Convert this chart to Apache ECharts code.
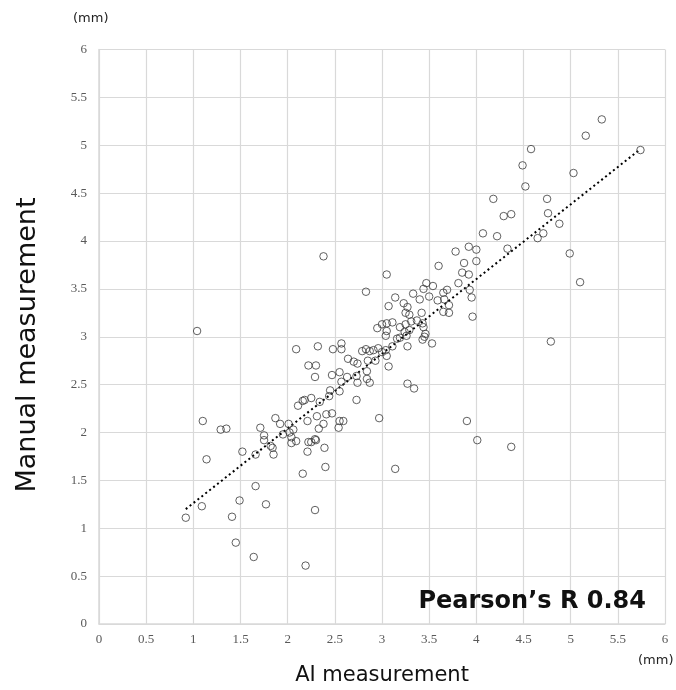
<!DOCTYPE html>
<html>
<head>
<meta charset="utf-8">
<script src="https://cdn.jsdelivr.net/npm/echarts@6/dist/echarts.min.js"></script>
<style>
html,body{margin:0;padding:0;background:#fff;}
#chart{width:676px;height:690px;}
</style>
</head>
<body>
<div id="chart"></div>
<script>
// AI measurement (x, mm)
const aiValues = [
0.92,1.09,1.41,1.49,1.66,1.77,2.29,1.45,1.64,2.19,2.16,3.14,2.40,
1.04,1.10,1.29,1.35,1.14,1.52,1.66,1.71,1.75,1.75,1.82,1.84,1.85,1.87,1.92,
1.95,2.01,2.02,2.06,2.04,2.09,2.04,2.11,2.16,2.18,2.25,2.21,2.31,2.38,2.34,2.41,2.33,
2.22,2.25,2.29,2.30,2.21,2.39,2.44,2.45,2.55,2.47,2.55,2.59,2.54,2.73,2.97,3.27,3.34,
3.90,4.01,4.37,4.79,
2.09,2.32,2.48,2.57,2.57,2.22,2.30,2.29,2.47,2.55,2.57,2.63,2.73,2.74,2.84,2.87,
2.64,2.70,2.74,2.79,2.83,2.87,2.91,2.96,3.00,3.04,3.05,2.93,2.85,2.84,3.07,
2.38,3.05,2.83,2.95,3.00,3.05,3.11,3.05,3.04,3.19,3.25,3.31,3.37,3.43,3.44,3.29,3.24,
3.19,3.16,3.26,3.45,3.46,3.43,3.53,3.27,3.11,
3.14,3.07,3.23,3.27,3.25,3.29,3.42,3.33,3.40,3.50,3.47,3.54,3.44,3.59,3.65,3.69,3.71,
3.65,3.71,3.66,3.60,3.78,3.87,3.85,3.92,4.00,3.92,4.00,3.81,3.93,3.95,3.96,
4.07,4.22,4.18,4.29,4.37,4.33,4.49,4.52,4.58,4.75,4.76,4.88,4.65,4.71,4.99,5.10,5.03,
5.16,5.33,5.74
];
// Manual measurement (y, mm)
const manualValues = [
1.11,1.23,1.12,1.29,1.44,1.25,1.19,0.85,0.70,0.61,1.57,1.62,1.64,
3.06,2.12,2.03,2.04,1.72,1.80,1.77,2.05,1.97,1.92,1.86,1.84,1.77,2.15,2.09,
1.98,2.09,2.00,2.03,1.89,1.91,1.95,2.28,2.33,2.34,2.36,2.12,2.17,2.09,2.32,2.19,2.04,
1.90,1.90,1.93,1.92,1.80,1.84,2.38,2.44,2.43,2.20,2.12,2.12,2.05,2.34,2.15,2.51,2.46,
2.12,1.92,1.85,2.95,
2.87,2.90,2.87,2.93,2.87,2.70,2.70,2.58,2.60,2.63,2.53,2.58,2.59,2.52,2.56,2.52,
2.77,2.74,2.72,2.85,2.87,2.85,2.86,2.88,2.84,2.86,2.80,2.75,2.75,2.64,2.69,
3.84,3.65,3.47,3.09,3.13,3.14,3.15,3.06,3.01,3.10,3.13,3.16,3.17,3.14,3.10,3.07,3.05,
2.99,2.98,3.01,3.00,3.03,2.97,2.93,2.90,2.90,
3.41,3.32,3.35,3.31,3.25,3.23,3.25,3.45,3.39,3.42,3.56,3.53,3.50,3.38,3.46,3.49,3.33,
3.26,3.25,3.39,3.74,3.89,3.77,3.67,3.65,3.79,3.94,3.91,3.56,3.49,3.41,3.21,
4.08,4.05,4.44,4.26,4.28,3.92,4.79,4.57,4.96,4.44,4.29,4.18,4.03,4.08,3.87,3.57,4.71,
5.10,5.27,4.95
];
// Linear trendline endpoints
const trendX = [0.92, 5.74];
const trendY = [1.20, 4.96];
// Axis ticks
const axisMin = 0, axisMax = 6, axisStep = 0.5;
const xTitle = 'AI measurement';
const yTitle = 'Manual measurement';
const unitLabel = '(mm)';
const statLabel = 'Pearson’s R 0.84';

const chart = echarts.init(document.getElementById('chart'), null, {renderer:'canvas'});
const points = aiValues.map((v,i)=>[v, manualValues[i]]);
const trend = trendX.map((v,i)=>[v, trendY[i]]);
const gridColor = '#d9d9d9';
const tickLabel = {color:'#595959', fontFamily:'"Liberation Serif", "Times New Roman", serif', fontSize:13};

chart.setOption({
  animation:false,
  backgroundColor:'#ffffff',
  grid:{left:99, top:49.5, right:11, bottom:66, containLabel:false},
  xAxis:{
    type:'value', min:axisMin, max:axisMax, interval:axisStep,
    axisLine:{show:true, lineStyle:{color:gridColor, width:1.5}},
    axisTick:{show:false},
    splitLine:{show:true, lineStyle:{color:gridColor, width:1.2}},
    axisLabel:Object.assign({margin:9}, tickLabel)
  },
  yAxis:{
    type:'value', min:axisMin, max:axisMax, interval:axisStep,
    axisLine:{show:true, lineStyle:{color:gridColor, width:1.5}},
    axisTick:{show:false},
    splitLine:{show:true, lineStyle:{color:gridColor, width:1.2}},
    axisLabel:Object.assign({margin:12}, tickLabel)
  },
  series:[
    {
      type:'line', data:trend, showSymbol:false, symbol:'none', silent:true,
      lineStyle:{color:'#000', width:2, type:[2,3]}, z:3
    },
    {
      type:'scatter', data:points, symbol:'circle', symbolSize:7.5,
      itemStyle:{color:'rgba(255,255,255,0)', borderColor:'#3a3a3a', borderWidth:1}, z:4
    }
  ],
  graphic:[
    {type:'text', left:73, top:12, style:{text:unitLabel, font:'13px "DejaVu Sans"', fill:'#222'}},
    {type:'text', left:638, top:654, style:{text:unitLabel, font:'13px "DejaVu Sans"', fill:'#222'}},
    {type:'text', x:382, y:676, style:{text:xTitle, font:'21px "DejaVu Sans"', fill:'#111', textAlign:'center', textVerticalAlign:'middle'}},
    {type:'text', x:28, y:345, rotation:Math.PI/2, style:{text:yTitle, font:'27px "DejaVu Sans"', fill:'#111', textAlign:'center', textVerticalAlign:'middle'}},
    {type:'text', x:646, y:602, style:{text:statLabel, font:'bold 24px "DejaVu Sans"', fill:'#111', textAlign:'right', textVerticalAlign:'middle'}, z:10}
  ]
});
</script>
</body>
</html>
